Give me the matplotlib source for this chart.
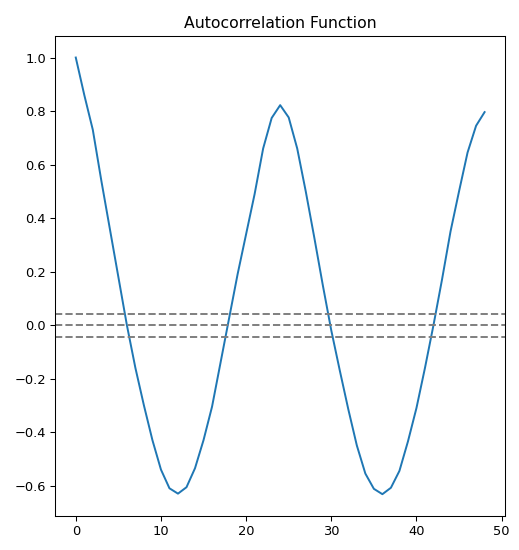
import numpy as np
import matplotlib
matplotlib.use("Agg")
import matplotlib.pyplot as plt

# acf values, lags 0..48
lags = list(range(49))
acf_vals = [1.0, 0.86, 0.73, 0.54, 0.36, 0.18, 0.0, -0.16, -0.30, -0.43, -0.54,
            -0.61, -0.63, -0.606, -0.535, -0.43, -0.305, -0.14, 0.025, 0.19, 0.34,
            0.49, 0.66, 0.774, 0.822, 0.776, 0.66, 0.50, 0.328, 0.15, -0.02,
            -0.17, -0.315, -0.45, -0.555, -0.612, -0.632, -0.608, -0.545, -0.435, -0.31,
            -0.16, 0.0, 0.17, 0.35, 0.50, 0.645, 0.745, 0.796]
conf = 0.043

fig = plt.figure(figsize=(519 / 94, 550 / 94), dpi=94)
ax = fig.add_axes([0.1066, 0.0618, 0.8665, 0.8733])
ax.plot(lags, acf_vals)
ax.axhline(y=0, linestyle='--', color='gray')
ax.axhline(y=-conf, linestyle='--', color='gray')
ax.axhline(y=conf, linestyle='--', color='gray')
ax.set_title('Autocorrelation Function')
fig.savefig('out.png', dpi=94)
